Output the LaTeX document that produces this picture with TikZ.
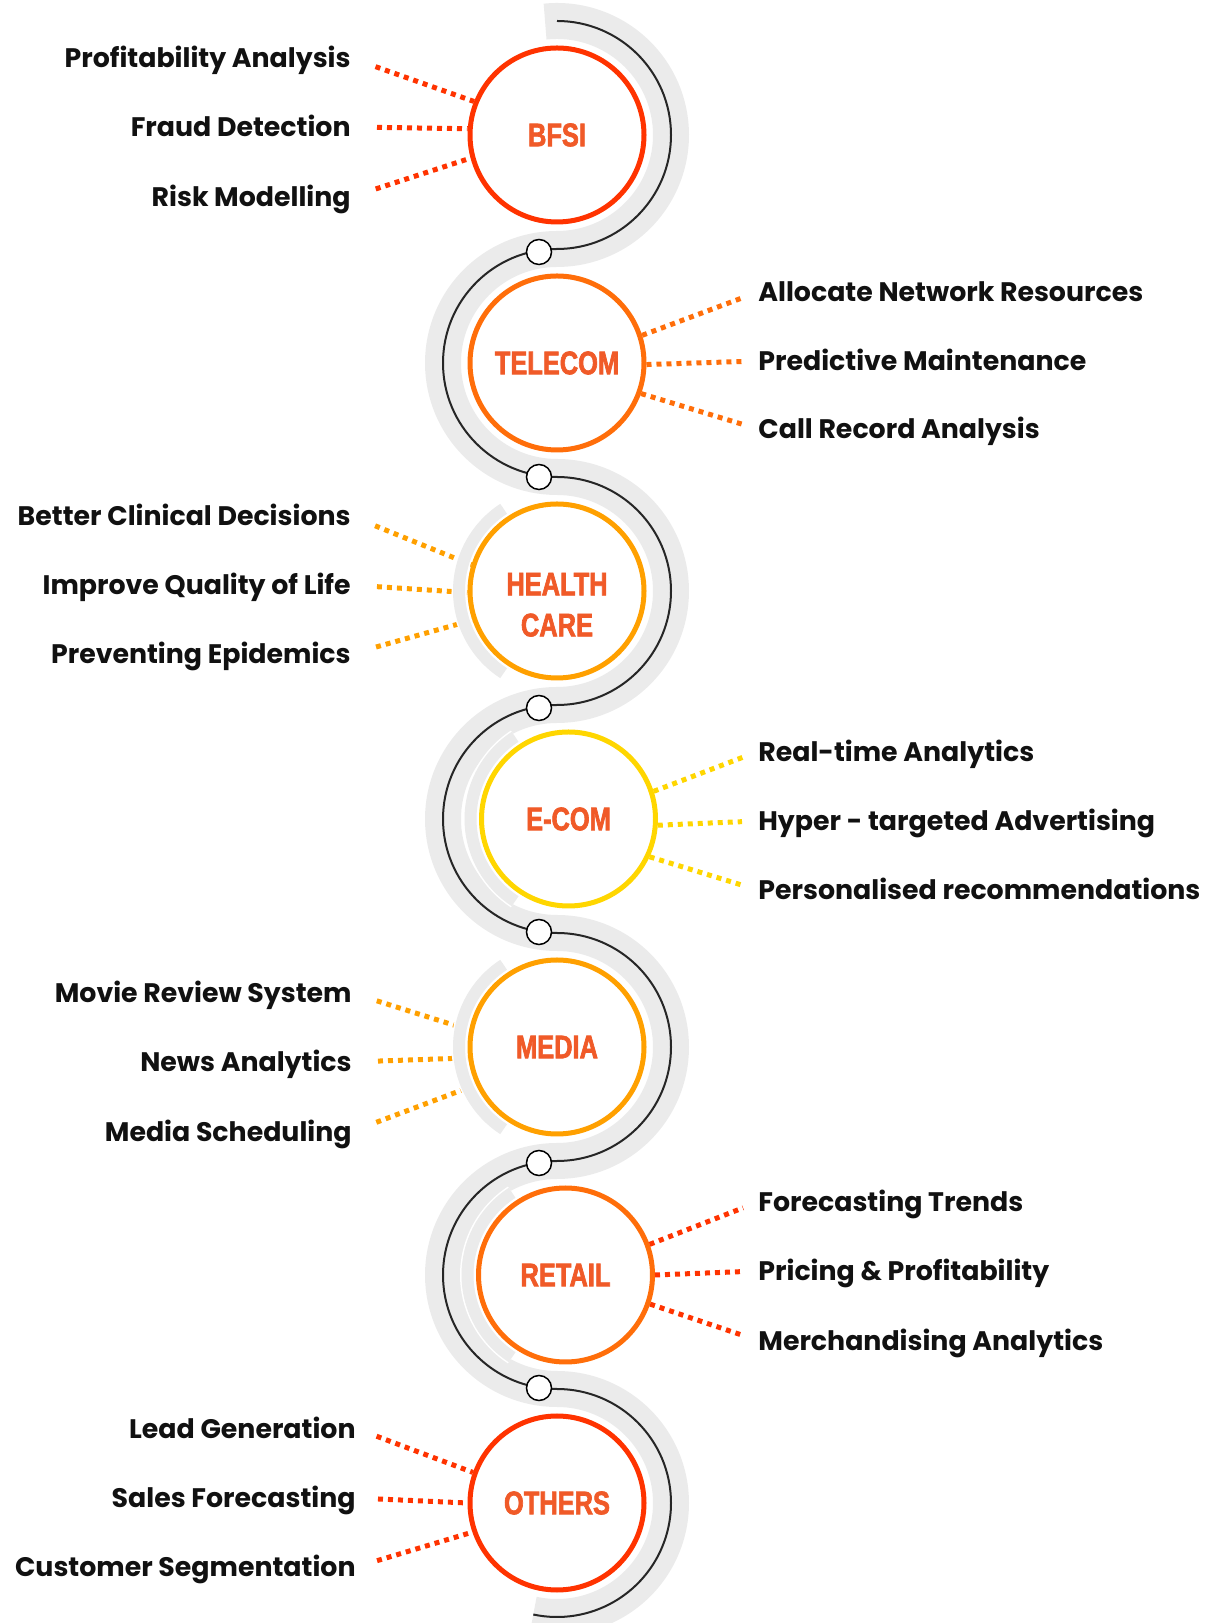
\documentclass[tikz,border=0pt]{standalone}
\usepackage{fontspec}
\setmainfont{Poppins}
\newfontfamily\hubfont[FakeStretch=0.78,FakeBold=2]{Liberation Sans Bold}
\definecolor{bfsired}{RGB}{255,51,0}
\definecolor{teleorange}{RGB}{255,110,10}
\definecolor{healthamber}{RGB}{255,160,0}
\definecolor{ecomyellow}{RGB}{255,214,0}
\definecolor{hubtext}{RGB}{240,90,40}
\definecolor{bandgray}{RGB}{235,235,235}
\definecolor{topicblack}{RGB}{17,17,17}
\tikzset{hub/.style={circle,draw=#1,line width=2.5pt,fill=white,minimum size=87pt,inner sep=0pt,
    font=\hubfont\fontsize{16.3}{20.5}\selectfont,text=hubtext,align=center}}
\tikzset{topic/.style={font=\bfseries\fontsize{13.4}{16}\selectfont,text=topicblack,inner sep=0pt,
    text height=9.6pt,text depth=0pt}}
\tikzset{dotline/.style={draw=#1,line width=2.5pt,dash pattern=on 2.5pt off 2.5pt}}
\tikzset{knot/.style={circle,draw=black,line width=0.75pt,fill=white,minimum size=12.5pt,inner sep=0pt}}
\tikzset{band/.style={draw=bandgray,line width=18pt}}
\tikzset{spine/.style={draw=black!85,line width=1pt}}
\tikzset{rimedge/.style={draw=white,line width=7.5pt},rim/.style={draw=bandgray,line width=6pt}}

\begin{document}
\begin{tikzpicture}[x=0.5pt,y=0.5pt]
  \useasboundingbox (0,0) rectangle (1212,1623);
  % grey band and black spine
  \draw[band] (545.08,1601.38) arc[start angle=96,end angle=-90,radius=114]
    arc[start angle=90,end angle=270,radius=114] arc[start angle=90,end angle=-90,radius=114]
    arc[start angle=90,end angle=270,radius=114] arc[start angle=90,end angle=-90,radius=114]
    arc[start angle=90,end angle=270,radius=114] arc[start angle=90,end angle=-102,radius=114];
  \draw[spine] (557,1602) arc[start angle=90,end angle=-90,radius=114]
    arc[start angle=90,end angle=270,radius=114] arc[start angle=90,end angle=-90,radius=114]
    arc[start angle=90,end angle=270,radius=114] arc[start angle=90,end angle=-90,radius=114]
    arc[start angle=90,end angle=270,radius=114] arc[start angle=90,end angle=-102,radius=114];
  \node[knot] (k1) at (539,1371) {};
  \node[knot] (k2) at (539,1146) {};
  \node[knot] (k3) at (539,915) {};
  \node[knot] (k4) at (539,691) {};
  \node[knot] (k5) at (539,460) {};
  \node[knot] (k6) at (539,235) {};

  % sectors
  \node[hub=bfsired] (bfsi) at (557,1488) {BFSI};
  \node[hub=teleorange] (telecom) at (557,1260) {TELECOM};
  \node[hub=healthamber] (health) at (557,1032) {\rule{0pt}{25pt}HEALTH\\CARE};
  \node[hub=ecomyellow] (ecom) at (568.5,804) {E-COM};
  \node[hub=healthamber] (media) at (557,576) {MEDIA};
  \node[hub=teleorange] (retail) at (565.5,348) {RETAIL};
  \node[hub=bfsired] (others) at (557,120) {OTHERS};

  % use cases
  \node[topic,anchor=east] (pa) at (351,1565) {Profitability Analysis};
  \node[topic,anchor=east] (fd) at (351,1496) {Fraud Detection};
  \node[topic,anchor=east] (rm) at (351,1426) {Risk Modelling};
  \node[topic,anchor=west] (anr) at (758,1331) {Allocate Network Resources};
  \node[topic,anchor=west] (pm) at (758,1262) {Predictive Maintenance};
  \node[topic,anchor=west] (cra) at (758,1194) {Call Record Analysis};
  \node[topic,anchor=east] (bcd) at (351,1107) {Better Clinical Decisions};
  \node[topic,anchor=east] (iql) at (351,1038) {Improve Quality of Life};
  \node[topic,anchor=east] (pe) at (351,969) {Preventing Epidemics};
  \node[topic,anchor=west] (rta) at (758,871.5) {Real-time Analytics};
  \node[topic,anchor=west] (hta) at (758,802) {Hyper - targeted Advertising};
  \node[topic,anchor=west] (pr) at (758,733) {Personalised recommendations};
  \node[topic,anchor=east] (mrs) at (352,630) {Movie Review System};
  \node[topic,anchor=east] (na) at (352,561) {News Analytics};
  \node[topic,anchor=east] (ms) at (352,491.5) {Media Scheduling};
  \node[topic,anchor=west] (ft) at (758,421) {Forecasting Trends};
  \node[topic,anchor=west] (pp) at (758,352) {Pricing \& Profitability};
  \node[topic,anchor=west] (ma) at (758,282.5) {Merchandising Analytics};
  \node[topic,anchor=east] (lg) at (356,194.5) {Lead Generation};
  \node[topic,anchor=east] (sf) at (356,125) {Sales Forecasting};
  \node[topic,anchor=east] (cs) at (356,56) {Customer Segmentation};

  \draw[dotline=bfsired,shorten <=13pt] (pa.east) -- (bfsi.158);
  \draw[dotline=bfsired,shorten <=13pt] (fd.east) -- (bfsi.176);
  \draw[dotline=bfsired,shorten <=13pt] (rm.east) -- (bfsi.195);
  \draw[dotline=teleorange,shorten >=8pt] (telecom.18) -- (anr.west);
  \draw[dotline=teleorange,shorten >=8pt] (telecom.-1) -- (pm.west);
  \draw[dotline=teleorange,shorten >=8pt] (telecom.-20) -- (cra.west);
  \draw[dotline=healthamber,shorten <=13pt] (bcd.east) -- (health.163);
  \draw[dotline=healthamber,shorten <=13pt] (iql.east) -- (health.181);
  \draw[dotline=healthamber,shorten <=13pt] (pe.east) -- (health.199);
  \draw[dotline=ecomyellow,shorten >=8pt] (ecom.18) -- (rta.west);
  \draw[dotline=ecomyellow,shorten >=8pt] (ecom.-4) -- (hta.west);
  \draw[dotline=ecomyellow,shorten >=8pt] (ecom.-25) -- (pr.west);
  \draw[dotline=healthamber,shorten <=13pt] (mrs.east) -- (media.169);
  \draw[dotline=healthamber,shorten <=13pt] (na.east) -- (media.187);
  \draw[dotline=healthamber,shorten <=13pt] (ms.east) -- (media.205);
  \draw[dotline=bfsired,shorten >=8pt] (retail.20) -- (ft.west);
  \draw[dotline=bfsired,shorten >=8pt] (retail.0) -- (pp.west);
  \draw[dotline=bfsired,shorten >=8pt] (retail.-19) -- (ma.west);
  \draw[dotline=bfsired,shorten <=11pt] (lg.east) -- (others.160);
  \draw[dotline=bfsired,shorten <=11pt] (sf.east) -- (others.180);
  \draw[dotline=bfsired,shorten <=11pt] (cs.east) -- (others.199);

  % inner grey rims
  \draw[rimedge] (health.center) ++(123:98) arc[start angle=123,end angle=237,radius=98];
  \draw[rim] (health.center) ++(123:98) arc[start angle=123,end angle=237,radius=98];
  \draw[rimedge] (ecom.center) ++(123:98) arc[start angle=123,end angle=237,radius=98];
  \draw[rim] (ecom.center) ++(123:98) arc[start angle=123,end angle=237,radius=98];
  \draw[rimedge] (media.center) ++(123:98) arc[start angle=123,end angle=237,radius=98];
  \draw[rim] (media.center) ++(123:98) arc[start angle=123,end angle=237,radius=98];
  \draw[rimedge] (retail.center) ++(123:98) arc[start angle=123,end angle=237,radius=98];
  \draw[rim] (retail.center) ++(123:98) arc[start angle=123,end angle=237,radius=98];
\end{tikzpicture}
\end{document}
